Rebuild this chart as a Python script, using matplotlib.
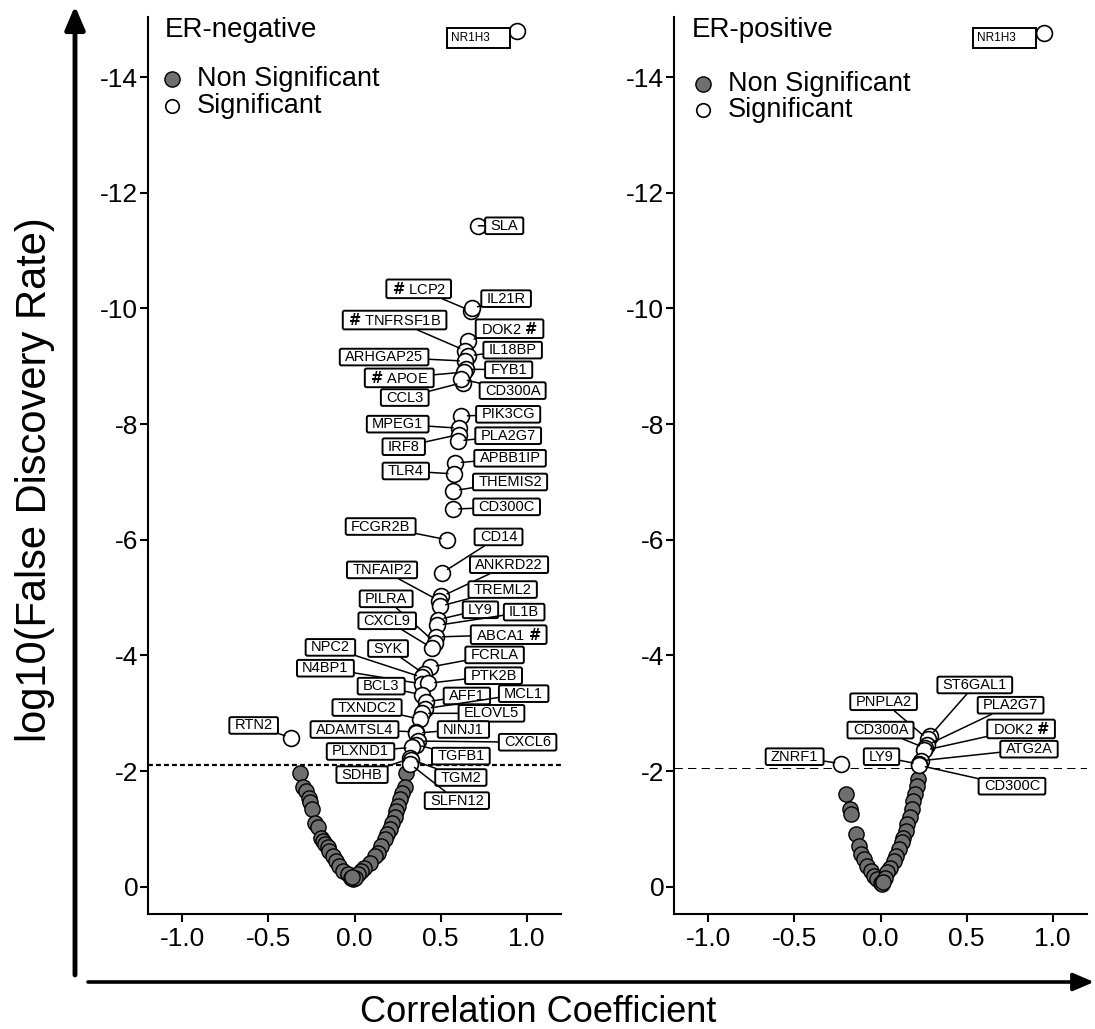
import matplotlib
matplotlib.use("Agg")
import matplotlib.pyplot as plt
from matplotlib.patches import BoxStyle, Rectangle, FancyArrowPatch

plt.rcParams['font.family'] = ['Liberation Sans', 'DejaVu Sans']
plt.rcParams['axes.unicode_minus'] = False

# ---- ER-negative ----
neg_ns_r = [-0.317, -0.298, -0.282, -0.267, -0.259, -0.247, -0.228, -0.214, -0.194, -0.185,
            -0.169, -0.156, -0.146, -0.127, -0.107, -0.088, -0.068, -0.039, -0.019, -0.006,
            0.298, 0.292, 0.278, 0.263, 0.253, 0.243, 0.233, 0.220, 0.204, 0.189,
            0.175, 0.156, 0.136, 0.117, 0.088, 0.058, 0.039, 0.019, 0.005, -0.012]
neg_ns_fdr = [-1.97, -1.72, -1.66, -1.54, -1.46, -1.35, -1.11, -1.03, -0.85, -0.80,
              -0.74, -0.68, -0.62, -0.54, -0.45, -0.36, -0.28, -0.22, -0.16, -0.13,
              -1.97, -1.72, -1.63, -1.52, -1.40, -1.31, -1.20, -1.11, -1.00, -0.91,
              -0.82, -0.71, -0.59, -0.54, -0.42, -0.33, -0.28, -0.22, -0.15, -0.17]

neg_genes = ['NR1H3', 'SLA', 'LCP2', 'IL21R', 'DOK2', 'TNFRSF1B', 'IL18BP', 'ARHGAP25', 'FYB1',
             'APOE', 'CCL3', 'CD300A', 'PIK3CG', 'MPEG1', 'IRF8', 'PLA2G7', 'APBB1IP', 'TLR4',
             'THEMIS2', 'CD300C', 'FCGR2B', 'CD14', 'ANKRD22', 'TNFAIP2', 'TREML2', 'LY9', 'IL1B',
             'ABCA1', 'PILRA', 'CXCL9', 'FCRLA', 'SYK', 'NPC2', 'N4BP1', 'PTK2B', 'BCL3', 'AFF1',
             'MCL1', 'ELOVL5', 'TXNDC2', 'RTN2', 'ADAMTSL4', 'NINJ1', 'CXCL6', 'TGFB1', 'PLXND1',
             'SDHB', 'TGM2', 'SLFN12']
neg_r = [0.945, 0.72, 0.675, 0.68, 0.66, 0.645, 0.66, 0.645, 0.65,
         0.635, 0.63, 0.62, 0.62, 0.61, 0.605, 0.60, 0.585, 0.58,
         0.575, 0.57, 0.54, 0.51, 0.505, 0.49, 0.495, 0.485, 0.48,
         0.475, 0.47, 0.45, 0.44, 0.405, 0.395, 0.39, 0.43, 0.39, 0.415,
         0.41, 0.395, 0.38, -0.37, 0.355, 0.36, 0.37, 0.355, 0.335,
         0.325, 0.33, 0.32]
neg_fdr = [-14.80, -11.43, -9.96, -10.00, -9.44, -9.27, -9.18, -9.09, -8.95,
           -8.90, -8.72, -8.78, -8.14, -7.93, -7.82, -7.71, -7.33, -7.14,
           -6.85, -6.53, -6.00, -5.43, -5.02, -4.95, -4.85, -4.62, -4.52,
           -4.32, -4.22, -4.13, -3.80, -3.68, -3.62, -3.51, -3.52, -3.32, -3.20,
           -3.08, -3.00, -2.90, -2.58, -2.68, -2.66, -2.52, -2.46, -2.41,
           -2.22, -2.20, -2.13]
neg_hash_before = ['LCP2', 'TNFRSF1B', 'APOE']
neg_hash_after = ['DOK2', 'ABCA1']
neg_threshold = -2.10

# ---- ER-positive ----
pos_ns_r = [-0.200, -0.175, -0.170, -0.142, -0.127, -0.111, -0.097, -0.078, -0.058, -0.039,
            -0.019, 0.000, 0.010,
            0.220, 0.214, 0.200, 0.189, 0.181, 0.170, 0.156, 0.146, 0.130, 0.123,
            0.107, 0.092, 0.078, 0.058, 0.039, 0.025, 0.013]
pos_ns_fdr = [-1.60, -1.34, -1.26, -0.91, -0.71, -0.57, -0.48, -0.36, -0.28, -0.19,
              -0.13, -0.07, -0.05,
              -1.86, -1.75, -1.60, -1.49, -1.34, -1.20, -1.08, -0.97, -0.85, -0.77,
              -0.65, -0.54, -0.45, -0.33, -0.25, -0.16, -0.09]

pos_genes = ['NR1H3', 'ST6GAL1', 'PNPLA2', 'PLA2G7', 'CD300A', 'DOK2', 'ATG2A', 'LY9', 'CD300C', 'ZNRF1']
pos_r = [0.951, 0.285, 0.275, 0.27, 0.26, 0.255, 0.235, 0.225, 0.225, -0.23]
pos_fdr = [-14.77, -2.60, -2.55, -2.45, -2.40, -2.36, -2.18, -2.12, -2.10, -2.13]
pos_hash_before = []
pos_hash_after = ['DOK2']
pos_threshold = -2.06

# label box centres (layout)
neg_label_pos = {
    'SLA': (0.87, -11.43), 'LCP2': (0.373, -10.34), 'IL21R': (0.881, -10.17),
    'TNFRSF1B': (0.233, -9.80), 'DOK2': (0.901, -9.65), 'IL18BP': (0.919, -9.28),
    'ARHGAP25': (0.172, -9.16), 'FYB1': (0.896, -8.94), 'APOE': (0.26, -8.80),
    'CCL3': (0.292, -8.46), 'CD300A': (0.919, -8.58), 'PIK3CG': (0.893, -8.17),
    'MPEG1': (0.251, -8.00), 'PLA2G7': (0.893, -7.80), 'IRF8': (0.286, -7.61),
    'APBB1IP': (0.904, -7.41), 'TLR4': (0.298, -7.19), 'THEMIS2': (0.904, -7.00),
    'CD300C': (0.884, -6.57), 'FCGR2B': (0.152, -6.23), 'CD14': (0.837, -6.05),
    'ANKRD22': (0.898, -5.57), 'TNFAIP2': (0.16, -5.48), 'TREML2': (0.861, -5.14),
    'LY9': (0.732, -4.79), 'IL1B': (0.986, -4.75), 'PILRA': (0.184, -4.98),
    'ABCA1': (0.896, -4.36), 'CXCL9': (0.19, -4.60), 'SYK': (0.195, -4.12),
    'NPC2': (-0.14, -4.14), 'N4BP1': (-0.169, -3.78), 'FCRLA': (0.814, -4.01),
    'PTK2B': (0.808, -3.65), 'BCL3': (0.155, -3.47), 'AFF1': (0.653, -3.30),
    'MCL1': (0.983, -3.34), 'TXNDC2': (0.073, -3.10), 'ELOVL5': (0.796, -3.00),
    'RTN2': (-0.586, -2.79), 'ADAMTSL4': (0.0, -2.72), 'NINJ1': (0.633, -2.72),
    'CXCL6': (1.006, -2.50), 'PLXND1': (0.035, -2.34), 'TGFB1': (0.618, -2.26),
    'SDHB': (0.044, -1.94), 'TGM2': (0.618, -1.89), 'SLFN12': (0.595, -1.49),
}
pos_label_pos = {
    'ST6GAL1': (0.548, -3.49), 'PNPLA2': (0.018, -3.20), 'PLA2G7': (0.756, -3.14),
    'CD300A': (0.0, -2.71), 'DOK2': (0.817, -2.73), 'ATG2A': (0.863, -2.38),
    'LY9': (0.006, -2.25), 'ZNRF1': (-0.499, -2.25), 'CD300C': (0.764, -1.74),
}

GRAY = '#6f6f6f'
HASH = r'$\mathbf{\#}$'


def label_box(x0, y0, width, height, mutation_size):
    padx = 0.36 * mutation_size
    pady = 0.09 * mutation_size
    return BoxStyle.Round(pad=0, rounding_size=0.12)(
        x0 - padx, y0 - pady, width + 2 * padx, height + 2 * pady, mutation_size)


def draw_panel(ax, title, ns_r, ns_fdr, genes, r, fdr, label_pos, hash_before, hash_after,
               threshold, dash, dash_lw, title_x, leg_x, leg_tx, leg_y):
    ax.set_xlim(-1.2, 1.2)
    ax.set_ylim(0.47, -15.04)
    ax.set_xticks([-1.0, -0.5, 0.0, 0.5, 1.0])
    ax.set_xticklabels(['-1.0', '-0.5', '0.0', '0.5', '1.0'])
    ax.set_yticks(list(range(0, -15, -2)))
    ax.set_yticklabels([str(t) for t in range(0, -15, -2)])
    for s in ['top', 'right']:
        ax.spines[s].set_visible(False)
    for s in ['left', 'bottom']:
        ax.spines[s].set_linewidth(1.5)
    ax.tick_params(labelsize=19, length=6, width=1.5)
    ax.tick_params(axis='y', pad=1)
    ax.tick_params(axis='x', pad=3.5)

    ax.axhline(threshold, color='black', lw=dash_lw, ls=(0, dash), zorder=1)
    ax.scatter(ns_r, ns_fdr, s=120, c=GRAY, edgecolors='black', linewidths=1.0, zorder=2)
    ax.scatter(r, fdr, s=130, c='white', edgecolors='black', linewidths=1.2, zorder=3)

    for g, x, y in zip(genes, r, fdr):
        if g not in label_pos:
            continue
        txt = g
        if g in hash_before:
            txt = HASH + ' ' + g
        elif g in hash_after:
            txt = g + ' ' + HASH
        ax.annotate(txt, xy=(x, y), xytext=label_pos[g], ha='center', va='center',
                    fontsize=10.5, zorder=4, annotation_clip=False,
                    bbox=dict(boxstyle=label_box, fc='white', ec='black', lw=1.4),
                    arrowprops=dict(arrowstyle='-', color='black', lw=1.1,
                                    shrinkA=0, shrinkB=4.5))

    # NR1H3 tag sits right next to its point
    ax.add_patch(Rectangle((0.537, -14.50), 0.367, -0.35, fc='white', ec='black',
                           lw=1.4, zorder=4))
    ax.text(0.56, -14.675, 'NR1H3', fontsize=8.5, ha='left', va='center', zorder=5)

    ax.text(title_x, 1.0, title, transform=ax.transAxes, fontsize=20, ha='left', va='top')
    ax.scatter([leg_x], [leg_y[0]], transform=ax.transAxes, s=120, c=GRAY,
               edgecolors='black', linewidths=1.0, clip_on=False)
    ax.scatter([leg_x], [leg_y[1]], transform=ax.transAxes, s=95, c='white',
               edgecolors='black', linewidths=1.2, clip_on=False)
    ax.text(leg_tx, leg_y[0], 'Non Significant', transform=ax.transAxes, fontsize=19.5,
            ha='left', va='center')
    ax.text(leg_tx, leg_y[1], 'Significant', transform=ax.transAxes, fontsize=19.5,
            ha='left', va='center')


fig = plt.figure(figsize=(10.95, 10.29), dpi=100)
ax1 = fig.add_axes([148 / 1095, 1 - 914 / 1029, 413 / 1095, 897 / 1029])
ax2 = fig.add_axes([674 / 1095, 1 - 914 / 1029, 413 / 1095, 897 / 1029])

draw_panel(ax1, 'ER-negative', neg_ns_r, neg_ns_fdr, neg_genes, neg_r, neg_fdr, neg_label_pos,
           neg_hash_before, neg_hash_after, neg_threshold, (2.2, 1.4), 1.6,
           0.041, 0.058, 0.119, (0.931, 0.901))
draw_panel(ax2, 'ER-positive', pos_ns_r, pos_ns_fdr, pos_genes, pos_r, pos_fdr, pos_label_pos,
           pos_hash_before, pos_hash_after, pos_threshold, (8, 5), 0.75,
           0.044, 0.070, 0.131, (0.925, 0.896))

# big axis arrows
fig.add_artist(FancyArrowPatch((75 / 1095, 1 - 975 / 1029), (75 / 1095, 1 - 6 / 1029),
                               transform=fig.transFigure, shrinkA=0, shrinkB=0,
                               arrowstyle='-|>,head_length=0.7,head_width=0.3',
                               mutation_scale=20, lw=3.5, color='black'))
fig.add_artist(FancyArrowPatch((88 / 1095, 1 - 982 / 1029), (1094 / 1095, 1 - 982 / 1029),
                               transform=fig.transFigure, shrinkA=0, shrinkB=0,
                               arrowstyle='-|>,head_length=0.7,head_width=0.3',
                               mutation_scale=18, lw=2.6, color='black'))

fig.text(35 / 1095, 1 - 480 / 1029, 'log10(False Discovery Rate)', rotation=90,
         fontsize=30, ha='center', va='center')
fig.text(538 / 1095, 1 - 1022 / 1029, 'Correlation Coefficient', fontsize=26,
         ha='center', va='baseline')

fig.savefig('out.png', dpi=100)
